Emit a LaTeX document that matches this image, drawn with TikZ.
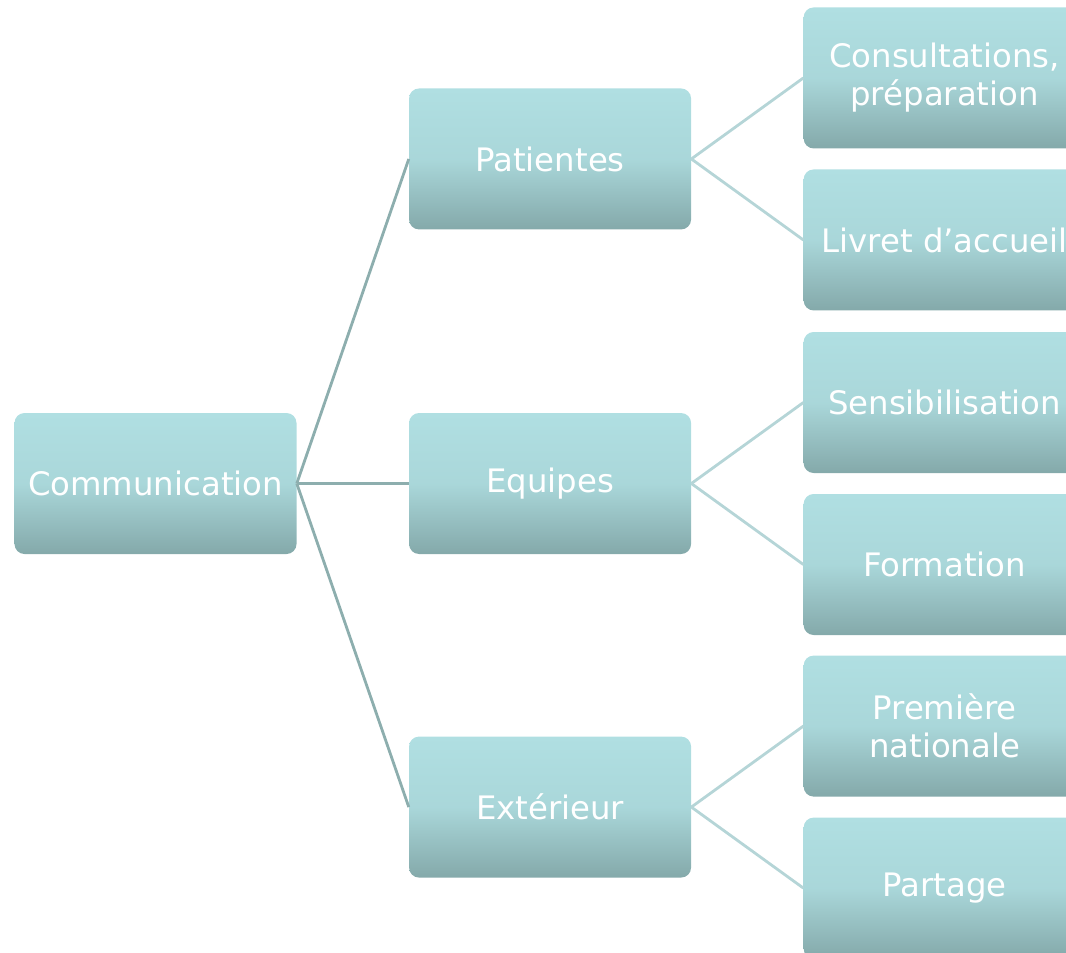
\documentclass[tikz,border=0pt]{standalone}
\usepackage{fontspec}
\setmainfont{DejaVu Sans}
\usetikzlibrary{positioning}
\definecolor{boxtop}{HTML}{B0DFE2}
\definecolor{boxbot}{HTML}{84A9AA}
\definecolor{linkdark}{HTML}{8DAEAE}
\definecolor{linklight}{HTML}{B5D5D7}
\tikzset{
    box/.style={rectangle, rounded corners=0.25cm, minimum width=7.05cm, minimum height=3.525cm,
      top color=boxtop, bottom color=boxbot, middle color=boxtop!85!boxbot, text=white,
      align=center, font=\fontsize{23}{27}\selectfont, inner sep=0pt},
    trunk/.style={draw=linkdark, line width=2pt},
    twig/.style={draw=linklight, line width=2pt},
}
\begin{document}
\begin{tikzpicture}
    \tikzset{node distance=2.8cm}
    \useasboundingbox (0,0) rectangle (26.65,-23.8);
    \clip (0,0) rectangle (26.65,-23.8);

    \node[box] (comm) at (3.8875,-12.0875) {Communication};
    \node[box, right=of comm] (equ) {Equipes};
    \node[box, above=4.575cm of equ] (pat) {Patientes};
    \node[box, below=4.55cm of equ] (ext) {Extérieur};

    \node[box, right=of pat, yshift=2.025cm] (cons) {Consultations,\\préparation};
    \node[box, right=of pat, yshift=-2.025cm] (livr) {Livret d’accueil};
    \node[box, right=of equ, yshift=2.025cm] (sens) {Sensibilisation};
    \node[box, right=of equ, yshift=-2.025cm] (form) {Formation};
    \node[box, right=of ext, yshift=2.025cm] (prem) {Première\\nationale};
    \node[box, right=of ext, yshift=-2.025cm] (part) {Partage};

    \draw[trunk] (comm.east) -- (pat.west);
    \draw[trunk] (comm.east) -- (equ.west);
    \draw[trunk] (comm.east) -- (ext.west);

    \draw[twig] (pat.east) -- (cons.west);
    \draw[twig] (pat.east) -- (livr.west);
    \draw[twig] (equ.east) -- (sens.west);
    \draw[twig] (equ.east) -- (form.west);
    \draw[twig] (ext.east) -- (prem.west);
    \draw[twig] (ext.east) -- (part.west);
  \end{tikzpicture}
\end{document}
